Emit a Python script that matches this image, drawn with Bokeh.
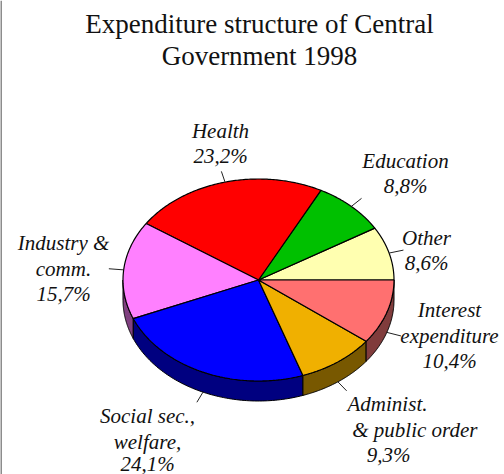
import numpy as np
from bokeh.core.properties import value
from bokeh.embed import file_html
from bokeh.models import Range1d, Span
from bokeh.plotting import figure
from bokeh.resources import INLINE

categories = ["Other", "Education", "Health", "Industry & comm.", "Social sec., welfare,",
              "Administ. & public order", "Interest expenditure"]
values = [8.6, 8.8, 23.2, 15.7, 24.1, 9.3, 10.4]
top_colors = ["#FFFFB0", "#00C000", "#FF0000", "#FF80FF", "#0000FF", "#F0B000", "#FF7070"]
side_colors = ["#808058", "#006000", "#800000", "#804080", "#000080", "#785800", "#803C3C"]
title_lines = ["Expenditure structure of Central", "Government 1998"]
pct_labels = [f"{v:.1f}%".replace(".", ",") for v in values]

label_text = [
    ["Other", pct_labels[0]],
    ["Education", pct_labels[1]],
    ["Health", pct_labels[2]],
    ["Industry &", "comm.", pct_labels[3]],
    ["Social sec.,", "welfare,", pct_labels[4]],
    ["Administ.", "& public  order", pct_labels[5]],
    ["Interest", "expenditure", pct_labels[6]],
]
label_x = [[426, 426], [405, 405], [220, 220], [63, 63, 63], [147, 147, 147],
           [387, 417, 388], [449, 449, 449]]
label_y = [[237, 262], [160, 185], [130, 155], [242, 268, 293], [415, 441, 463],
           [403, 429, 454], [309, 335, 360]]

CX, CY, RX, RY, DEPTH = 258, 279.5, 135.5, 101, 20

p = figure(width=504, height=474, output_backend="svg", toolbar_location=None,
           x_range=Range1d(0, 504), y_range=Range1d(474, 0), min_border=0)
p.xaxis.visible = False
p.yaxis.visible = False
p.grid.visible = False
p.outline_line_color = None
p.add_layout(Span(location=0.5, dimension="height", line_color="#8c8c8c", line_width=2))

fr = np.array(values) / sum(values)
edges = np.concatenate([[0], np.cumsum(fr)]) * 2 * np.pi


def ell(t, dy=0.0):
    return CX + RX * np.cos(t), CY - RY * np.sin(t) + dy


# side wall (lower half of the ellipse only)
for i in range(len(values)):
    a, b = max(edges[i], np.pi), edges[i + 1]
    if b <= a:
        continue
    t = np.linspace(a, b, 80)
    x0, y0 = ell(t)
    x1, y1 = ell(t[::-1], DEPTH)
    p.patch(np.r_[x0, x1], np.r_[y0, y1], fill_color=side_colors[i], line_color="black", line_width=1)

# top face
for i in range(len(values)):
    t = np.linspace(edges[i], edges[i + 1], 120)
    x, y = ell(t)
    p.patch(np.r_[CX, x], np.r_[CY, y], fill_color=top_colors[i], line_color="black", line_width=1.2)

# leader lines
for i in range(len(values)):
    m = (edges[i] + edges[i + 1]) / 2
    dy = DEPTH if np.sin(m) < 0 else 0
    x0, y0 = ell(m, dy)
    k = 1.11
    x1, y1 = CX + RX * k * np.cos(m), CY - RY * k * np.sin(m) + dy
    p.line([x0, x1], [y0, y1], line_color="#222222", line_width=1)

# labels
for txt, xs, ys in zip(label_text, label_x, label_y):
    p.text(xs, ys, text=txt, text_font=value("Liberation Serif"), text_font_style="italic",
           text_font_size="21px", text_align="center", text_baseline="alphabetic", text_color="#111111")

p.text([259, 259], [23, 55], text=title_lines, text_font=value("Liberation Serif"),
       text_font_size="27px", text_align="center", text_baseline="alphabetic", text_color="#111111")

open("out.html", "w").write(file_html(p, INLINE))
